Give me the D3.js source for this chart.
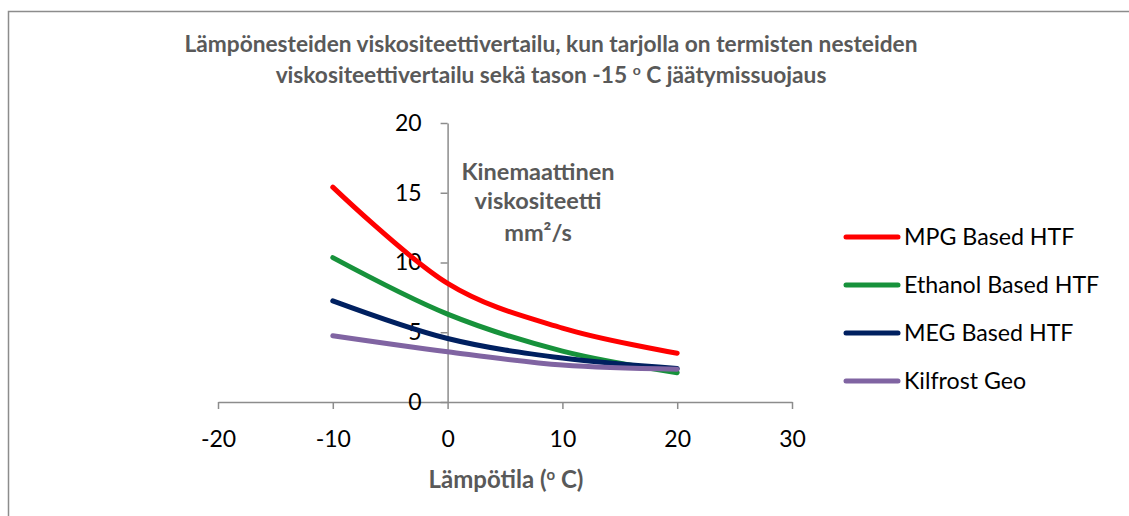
<!DOCTYPE html>
<html>
<head>
<meta charset="utf-8">
<script src="https://cdn.jsdelivr.net/npm/d3@7"></script>
<style>
  body { margin: 0; background: #fff; }
  svg { display: block; font-family: Lato, "Open Sans", sans-serif; }
</style>
</head>
<body>
<svg id="chart" width="1129" height="516"></svg>
<script>
// chart data
var temps = [-10, 0, 10, 20];
var mpg = [15.4, 8.5, 5.3, 3.5];
var ethanol = [10.35, 6.3, 3.65, 2.1];
var meg = [7.25, 4.55, 3.15, 2.4];
var kilfrost = [4.75, 3.6, 2.65, 2.35];
var seriesNames = ["MPG Based HTF", "Ethanol Based HTF", "MEG Based HTF", "Kilfrost Geo"];
var seriesColors = ["#ff0000", "#17923b", "#002060", "#8064a2"];
var xTicks = [-20, -10, 0, 10, 20, 30];
var yTicks = [0, 5, 10, 15, 20];

var svg = d3.select("#chart");
var grey = "#595959";
var axisGrey = "#8c8c8c";

// outer frame
svg.append("rect")
    .attr("x", 8.5).attr("y", 11.5)
    .attr("width", 1140).attr("height", 520)
    .attr("fill", "none")
    .attr("stroke", axisGrey)
    .attr("stroke-width", 1.5);

var x = d3.scaleLinear().domain([-20, 30]).range([218, 792]);
var y = d3.scaleLinear().domain([0, 20]).range([402, 123]);

// title
var title = svg.append("text")
    .attr("text-anchor", "middle")
    .attr("fill", grey)
    .attr("font-weight", "bold")
    .attr("font-size", 22.7);
title.append("tspan").attr("x", 551).attr("y", 52)
    .text("Lämpönesteiden viskositeettivertailu, kun tarjolla on termisten nesteiden");
var t2 = title.append("tspan").attr("x", 551).attr("y", 83);
t2.append("tspan").text("viskositeettivertailu sekä tason -15 ");
t2.append("tspan").attr("font-size", 14).attr("dy", -8).text("o");
t2.append("tspan").attr("dy", 8).text(" C jäätymissuojaus");

var plain = function(d) { return String(d); };

// x axis
var xAxis = svg.append("g")
    .attr("transform", "translate(0," + y(0) + ")")
    .call(d3.axisBottom(x).tickValues(xTicks).tickFormat(plain)
        .tickSize(7).tickSizeOuter(0).tickPadding(22));
xAxis.select(".domain").attr("stroke", axisGrey).attr("stroke-width", 1.5);
xAxis.selectAll(".tick line").attr("stroke", axisGrey).attr("stroke-width", 1.5);
xAxis.selectAll(".tick text")
    .attr("font-size", 23)
    .attr("fill", "#000")
    .attr("font-family", "Lato, sans-serif");

// y axis
var yAxis = svg.append("g")
    .attr("transform", "translate(" + x(0) + ",0)")
    .call(d3.axisLeft(y).tickValues(yTicks).tickFormat(plain)
        .tickSize(7).tickSizeOuter(0).tickPadding(19));
yAxis.select(".domain").attr("stroke", axisGrey).attr("stroke-width", 1.5);
yAxis.selectAll(".tick line").attr("stroke", axisGrey).attr("stroke-width", 1.5);
yAxis.selectAll(".tick text")
    .attr("font-size", 23)
    .attr("fill", "#000")
    .attr("font-family", "Lato, sans-serif");

// axis titles
var xTitle = svg.append("text")
    .attr("x", 506).attr("y", 488)
    .attr("text-anchor", "middle")
    .attr("fill", grey)
    .attr("font-weight", "bold")
    .attr("font-size", 24);
xTitle.append("tspan").text("Lämpötila (");
xTitle.append("tspan").attr("font-size", 15).attr("dy", -8).text("o");
xTitle.append("tspan").attr("dy", 8).text(" C)");

var yTitle = svg.append("text")
    .attr("text-anchor", "middle")
    .attr("fill", grey)
    .attr("font-weight", "bold")
    .attr("font-size", 23.5);
var yTitleLines = ["Kinemaattinen", "viskositeetti", "mm²/s"];
var yTitleBase = [180, 209, 241];
yTitleLines.forEach(function(txt, i) {
    yTitle.append("tspan").attr("x", 538).attr("y", yTitleBase[i]).text(txt);
});

// lines
var allSeries = [mpg, ethanol, meg, kilfrost];
var line = d3.line()
    .x(function(d, i) { return x(temps[i]); })
    .y(function(d) { return y(d); })
    .curve(d3.curveCardinal.tension(0));

svg.selectAll(".series")
    .data(allSeries)
    .enter().append("path")
    .attr("class", "series")
    .attr("d", line)
    .attr("fill", "none")
    .attr("stroke", function(d, i) { return seriesColors[i]; })
    .attr("stroke-width", 5)
    .attr("stroke-linecap", "round")
    .attr("stroke-linejoin", "round");

// legend
var legend = svg.selectAll(".legend")
    .data(seriesNames)
    .enter().append("g")
    .attr("class", "legend")
    .attr("transform", function(d, i) { return "translate(0," + (237 + i * 48) + ")"; });
legend.append("line")
    .attr("x1", 846).attr("x2", 898)
    .attr("stroke", function(d, i) { return seriesColors[i]; })
    .attr("stroke-width", 5)
    .attr("stroke-linecap", "round");
legend.append("text")
    .attr("x", 904).attr("y", 8)
    .attr("font-size", 23.2)
    .attr("fill", "#000")
    .text(function(d) { return d; });
</script>
</body>
</html>
